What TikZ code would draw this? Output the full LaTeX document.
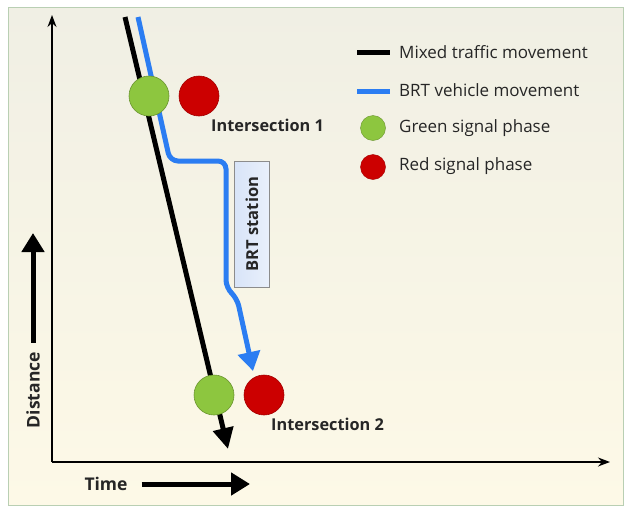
\documentclass[tikz,border=0pt]{standalone}
\usepackage{fontspec}
\setmainfont{Open Sans}
\definecolor{brtBlue}{HTML}{2B7DF2}
\definecolor{sigGreen}{HTML}{8DC63F}
\definecolor{sigRed}{HTML}{CC0000}
\definecolor{frameEdge}{HTML}{B9CFB3}
\definecolor{paperTop}{HTML}{F0EFE4}
\definecolor{paperBot}{HTML}{FDF9E7}
\definecolor{inkGray}{HTML}{262626}
\definecolor{stationFill}{HTML}{D8E4F8}
\usetikzlibrary{arrows.meta, positioning, calc, shadings}

\begin{document}
\begin{tikzpicture}[x=1pt, y=-1pt,
  sig/.style={circle, minimum size=40pt, inner sep=0pt},
  greensig/.style={sig, fill=sigGreen, draw=sigGreen!75!black, line width=0.6pt},
  redsig/.style={sig, fill=sigRed, draw=sigRed!80!black, line width=0.6pt},
  lgdsig/.style={circle, minimum size=25pt, inner sep=0pt},
  lgd/.style={anchor=west, font=\fontsize{17}{19}\selectfont, text=inkGray, inner sep=0pt},
  lbl/.style={font=\fontsize{16.3}{18}\selectfont\bfseries, text=inkGray, inner sep=0pt},
  axlbl/.style={font=\fontsize{17.5}{19}\selectfont\bfseries, text=inkGray, inner sep=0pt},
  axis/.style={line width=1.3pt, -{Stealth[length=12pt, width=9pt]}},
  bigarrow/.style={line width=5pt, -{Triangle[length=19pt, width=22pt]}},
  mixline/.style={line width=5pt, black},
  brtline/.style={line width=5pt, brtBlue}]

  \useasboundingbox (0,0) rectangle (635,517);
  % paper
  \fill[white] (0,0) rectangle (635,517);
  \shade[top color=paperTop, bottom color=paperBot, draw=frameEdge, line width=1pt]
    (8,7) rectangle (623,505);

  % axes
  \coordinate (origin) at (52,462);
  \coordinate (ytip) at (52,15);
  \coordinate (xtip) at (610,462);
  \draw[axis] (origin) -- (ytip);
  \draw[axis] (origin) -- (xtip);

  % axis labels
  \node[axlbl, rotate=90] (dist) at (33,390) {Distance};
  \coordinate (disttip) at (33,233);
  \draw[bigarrow, shorten <=9pt] (dist.east) -- (disttip);
  \node[axlbl] (time) at (106,484) {Time};
  \coordinate (timetip) at (250,484);
  \draw[bigarrow, shorten <=14pt] (time.east) -- (timetip);

  % BRT station
  \node[rotate=90, draw=black!45, line width=0.8pt, left color=stationFill, right color=stationFill!55!white,
    minimum width=126pt, minimum height=35pt, inner sep=0pt,
    font=\fontsize{16.5}{18}\selectfont\bfseries, text=inkGray] (station) at (252,224) {BRT station};

  % trajectories
  \coordinate (mixstart) at (125,17);
  \coordinate (mixend) at (228,449);
  \draw[mixline, -{Triangle[length=21pt, width=20pt]}] (mixstart) -- (mixend);
  \coordinate (brtstart) at (138,17);
  \coordinate (brtend) at (253,371);
  \draw[brtline, rounded corners=8pt, -{Triangle[length=19pt, width=22pt]}]
    (brtstart) -- (170,161) -- (226,161) -- (226,288) -- (237,298) -- (brtend);

  % intersections
  \node[greensig] (g1) at (149,96) {};
  \node[redsig] (r1) at (199,96) {};
  \node[lbl, anchor=west] (int1) at (211,125) {Intersection 1};
  \node[greensig] (g2) at (214,395) {};
  \node[redsig] (r2) at (264,395) {};
  \node[lbl, anchor=west] (int2) at (271,424) {Intersection 2};

  % legend
  \coordinate (lk1) at (357,52);
  \coordinate (lk2) at (357,91);
  \draw[mixline] (lk1) -- ++(33,0);
  \draw[brtline] (lk2) -- ++(33,0);
  \node[lgdsig, fill=sigGreen, draw=sigGreen!75!black] (lg) at (373,128) {};
  \node[lgdsig, fill=sigRed, draw=sigRed!80!black] (lr) at (373,167) {};
  \node[lgd] (t1) at (399,52) {Mixed traffic movement};
  \node[lgd] (t2) at (399,90) {BRT vehicle movement};
  \node[lgd] (t3) at (399,128) {Green signal phase};
  \node[lgd] (t4) at (399,166) {Red signal phase};
\end{tikzpicture}
\end{document}
